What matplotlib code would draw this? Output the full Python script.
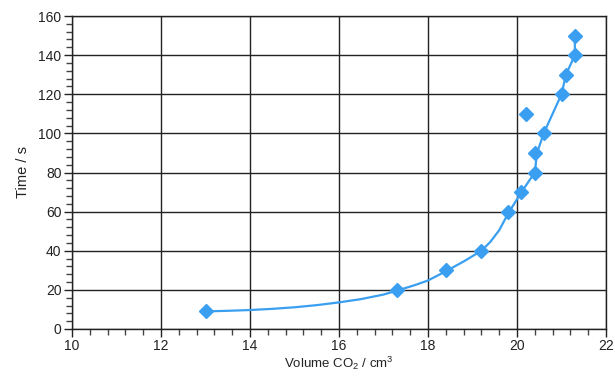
import matplotlib
matplotlib.use("Agg")
import matplotlib.pyplot as plt
from matplotlib.ticker import MultipleLocator

plt.rcParams['font.family'] = ['Liberation Sans', 'DejaVu Sans']
plt.rcParams['mathtext.fontset'] = 'custom'
plt.rcParams['mathtext.rm'] = 'Liberation Sans'
plt.rcParams['mathtext.it'] = 'Liberation Sans'

# Measured data points
volume = [13.0, 17.3, 18.4, 19.2, 19.8, 20.1, 20.4, 20.4, 20.6, 20.2, 21.0, 21.1, 21.3, 21.3]
time_s = [9, 20, 30, 40, 60, 70, 80, 90, 100, 110, 120, 130, 140, 150]

# Hand-drawn trend curve
trend_x = [13.0, 13.5, 14.0, 14.5, 15.0, 15.5, 16.0, 16.5, 17.0, 17.3, 17.7, 18.0,
           18.4, 18.8, 19.2, 19.4, 19.6, 19.8, 19.95, 20.1, 20.25, 20.4, 20.45,
           20.6, 20.8, 21.0, 21.1, 21.2, 21.3, 21.3]
trend_y = [9.0, 9.3, 9.7, 10.3, 11.1, 12.2, 13.6, 15.3, 17.6, 19.6, 22.4, 24.8,
           29.5, 34.5, 40.0, 44.5, 50.5, 59.0, 64.5, 70.0, 75.0, 80.0, 90.0,
           100.0, 110.0, 120.0, 130.0, 135.0, 140.0, 150.0]

x_ticks = [10, 12, 14, 16, 18, 20, 22]
y_ticks = [0, 20, 40, 60, 80, 100, 120, 140, 160]

blue = '#3a9ff0'

fig = plt.figure(figsize=(6.15, 3.77), dpi=100)
ax = fig.add_axes([72/615, 48/377, 534/615, 313/377])

ax.set_xlim(10, 22)
ax.set_ylim(0, 160)
ax.set_xticks(x_ticks)
ax.set_yticks(y_ticks)
ax.xaxis.set_minor_locator(MultipleLocator(0.4))
ax.yaxis.set_minor_locator(MultipleLocator(4))
ax.tick_params(which='major', direction='out', length=6, width=1, color='#222222',
               labelsize=10, labelcolor='#222222', pad=1.5)
ax.tick_params(which='minor', direction='out', length=4, width=1, color='#444444')

ax.grid(True, which='major', color='#222222', linewidth=1.0)
ax.set_axisbelow(True)
for s in ax.spines.values():
    s.set_color('#222222')
    s.set_linewidth(1.0)

ax.plot(trend_x, trend_y, color=blue, linewidth=1.6, zorder=3)
ax.plot(volume, time_s, linestyle='none', marker='D', markersize=7,
        color=blue, markeredgecolor=blue, zorder=4)

ax.set_xlabel('Volume CO$_2$ / cm$^3$', fontsize=9.5, color='#222222', labelpad=1)
ax.set_ylabel('Time / s', fontsize=10.5, color='#222222', labelpad=6)

fig.savefig('out.png', dpi=100)
